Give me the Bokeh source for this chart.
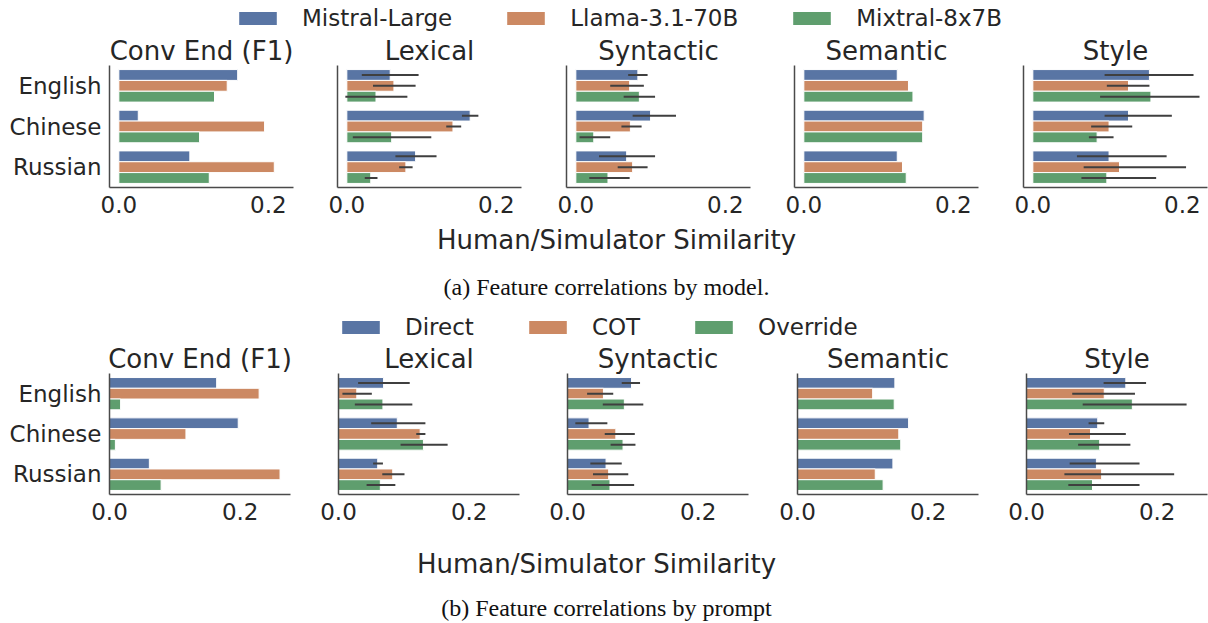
from bokeh.plotting import figure
from bokeh.models import (Range1d, FactorRange, FixedTicker, ColumnDataSource, Legend,
                          LegendItem, Label, NumeralTickFormatter)
from bokeh.transform import dodge
from bokeh.layouts import column, row
from bokeh.embed import file_html
from bokeh.resources import INLINE

NaN = float("nan")

# ---------------- data ----------------
languages = ["English", "Chinese", "Russian"]
features = ["Conv End (F1)", "Lexical", "Syntactic", "Semantic", "Style"]
models = ["Mistral-Large", "Llama-3.1-70B", "Mixtral-8x7B"]
prompts = ["Direct", "COT", "Override"]
colors = ["#5975A4", "#CC8963", "#5F9E6E"]
x_ticks = [0.0, 0.2]
x_label = "Human/Simulator Similarity"
caption_a = "(a) Feature correlations by model."
caption_b = "(b) Feature correlations by prompt"

# (a) by model -- values per language [English, Chinese, Russian]
conv_mistral = [0.159, 0.026, 0.095]
conv_llama = [0.145, 0.195, 0.208]
conv_mixtral = [0.128, 0.108, 0.121]

lex_mistral = [0.058, 0.165, 0.092]
lex_mistral_lo = [0.020, 0.154, 0.065]
lex_mistral_hi = [0.096, 0.176, 0.120]
lex_llama = [0.063, 0.142, 0.079]
lex_llama_lo = [0.035, 0.133, 0.070]
lex_llama_hi = [0.092, 0.153, 0.088]
lex_mixtral = [0.039, 0.060, 0.032]
lex_mixtral_lo = [-0.002, 0.008, 0.024]
lex_mixtral_hi = [0.081, 0.113, 0.041]

syn_mistral = [0.083, 0.100, 0.068]
syn_mistral_lo = [0.070, 0.076, 0.031]
syn_mistral_hi = [0.096, 0.134, 0.106]
syn_llama = [0.072, 0.073, 0.076]
syn_llama_lo = [0.046, 0.061, 0.056]
syn_llama_hi = [0.091, 0.088, 0.096]
syn_mixtral = [0.085, 0.024, 0.043]
syn_mixtral_lo = [0.064, 0.005, 0.018]
syn_mixtral_hi = [0.106, 0.046, 0.072]

sem_mistral = [0.125, 0.161, 0.125]
sem_llama = [0.140, 0.159, 0.132]
sem_mixtral = [0.146, 0.159, 0.137]

sty_mistral = [0.156, 0.128, 0.102]
sty_mistral_lo = [0.096, 0.096, 0.059]
sty_mistral_hi = [0.215, 0.186, 0.179]
sty_llama = [0.128, 0.102, 0.116]
sty_llama_lo = [0.099, 0.078, 0.068]
sty_llama_hi = [0.156, 0.133, 0.205]
sty_mixtral = [0.158, 0.086, 0.099]
sty_mixtral_lo = [0.090, 0.075, 0.065]
sty_mixtral_hi = [0.223, 0.108, 0.165]

# (b) by prompt
conv_direct = [0.164, 0.197, 0.061]
conv_cot = [0.229, 0.117, 0.261]
conv_override = [0.017, 0.009, 0.079]

lex_direct = [0.069, 0.090, 0.060]
lex_direct_lo = [0.030, 0.050, 0.053]
lex_direct_hi = [0.109, 0.133, 0.068]
lex_cot = [0.028, 0.125, 0.083]
lex_cot_lo = [0.006, 0.119, 0.067]
lex_cot_hi = [0.051, 0.133, 0.101]
lex_override = [0.068, 0.130, 0.064]
lex_override_lo = [0.025, 0.095, 0.043]
lex_override_hi = [0.113, 0.167, 0.087]

syn_direct = [0.098, 0.033, 0.059]
syn_direct_lo = [0.083, 0.012, 0.035]
syn_direct_hi = [0.111, 0.061, 0.083]
syn_cot = [0.055, 0.074, 0.063]
syn_cot_lo = [0.030, 0.057, 0.039]
syn_cot_hi = [0.070, 0.103, 0.093]
syn_override = [0.087, 0.085, 0.065]
syn_override_lo = [0.054, 0.066, 0.037]
syn_override_hi = [0.116, 0.104, 0.102]

sem_direct = [0.149, 0.170, 0.146]
sem_cot = [0.115, 0.155, 0.119]
sem_override = [0.148, 0.158, 0.131]

sty_direct = [0.152, 0.109, 0.107]
sty_direct_lo = [0.118, 0.095, 0.066]
sty_direct_hi = [0.183, 0.119, 0.173]
sty_cot = [0.119, 0.098, 0.115]
sty_cot_lo = [0.070, 0.065, 0.058]
sty_cot_hi = [0.166, 0.152, 0.226]
sty_override = [0.162, 0.112, 0.101]
sty_override_lo = [0.086, 0.079, 0.064]
sty_override_hi = [0.245, 0.159, 0.173]

NOERR = [NaN, NaN, NaN]

row_a = [
    ([conv_mistral, conv_llama, conv_mixtral], [NOERR] * 3, [NOERR] * 3),
    ([lex_mistral, lex_llama, lex_mixtral],
     [lex_mistral_lo, lex_llama_lo, lex_mixtral_lo],
     [lex_mistral_hi, lex_llama_hi, lex_mixtral_hi]),
    ([syn_mistral, syn_llama, syn_mixtral],
     [syn_mistral_lo, syn_llama_lo, syn_mixtral_lo],
     [syn_mistral_hi, syn_llama_hi, syn_mixtral_hi]),
    ([sem_mistral, sem_llama, sem_mixtral], [NOERR] * 3, [NOERR] * 3),
    ([sty_mistral, sty_llama, sty_mixtral],
     [sty_mistral_lo, sty_llama_lo, sty_mixtral_lo],
     [sty_mistral_hi, sty_llama_hi, sty_mixtral_hi]),
]
row_b = [
    ([conv_direct, conv_cot, conv_override], [NOERR] * 3, [NOERR] * 3),
    ([lex_direct, lex_cot, lex_override],
     [lex_direct_lo, lex_cot_lo, lex_override_lo],
     [lex_direct_hi, lex_cot_hi, lex_override_hi]),
    ([syn_direct, syn_cot, syn_override],
     [syn_direct_lo, syn_cot_lo, syn_override_lo],
     [syn_direct_hi, syn_cot_hi, syn_override_hi]),
    ([sem_direct, sem_cot, sem_override], [NOERR] * 3, [NOERR] * 3),
    ([sty_direct, sty_cot, sty_override],
     [sty_direct_lo, sty_cot_lo, sty_override_lo],
     [sty_direct_hi, sty_cot_hi, sty_override_hi]),
]

# ---------------- styling ----------------
TEXT = "#262626"
FONT = "DejaVu Sans"
SERIF = "Liberation Serif"
TOTAL_W = 1208
BAR_H = 0.8 / 3
OFFSETS = [BAR_H, 0.0, -BAR_H]


def make_panel(title, vals, los, his, xr, frame_w, frame_h, bl, br, bt, bb, first):
    p = figure(frame_width=frame_w, frame_height=frame_h,
               x_range=Range1d(*xr),
               y_range=FactorRange(factors=languages[::-1], range_padding=0),
               min_border_left=bl, min_border_right=br, min_border_top=bt, min_border_bottom=bb,
               toolbar_location=None, output_backend="svg", title=title)
    p.title.align = "center"
    p.title.text_font = FONT
    p.title.text_font_size = "26px"
    p.title.text_font_style = "normal"
    p.title.text_color = TEXT
    p.title.standoff = 0
    p.outline_line_color = None
    p.grid.visible = False
    for h in range(3):
        src = ColumnDataSource(dict(lang=languages, v=vals[h], lo=los[h], hi=his[h]))
        yy = dodge("lang", OFFSETS[h], range=p.y_range)
        p.hbar(y=yy, left=0, right="v", height=BAR_H, source=src,
               fill_color=colors[h], line_color="white", line_width=1)
        p.segment(x0="lo", y0=yy, x1="hi", y1=yy, source=src,
                  line_color="#3f3f3f", line_width=2)
    ax = p.xaxis[0]
    ax.ticker = FixedTicker(ticks=x_ticks)
    ax.formatter = NumeralTickFormatter(format="0.0")
    ax.major_label_text_font = FONT
    ax.major_label_text_font_size = "23px"
    ax.major_label_text_color = TEXT
    ax.major_label_standoff = 8
    ax.major_tick_out = 0
    ax.major_tick_in = 0
    ax.minor_tick_out = 0
    ax.minor_tick_in = 0
    ax.axis_line_color = "#4a4a4a"
    ax.axis_line_width = 1.5
    ay = p.yaxis[0]
    ay.major_tick_out = 0
    ay.major_tick_in = 0
    ay.axis_line_color = "#4a4a4a"
    ay.axis_line_width = 1.5
    ay.major_label_text_font = FONT
    ay.major_label_text_font_size = "23px"
    ay.major_label_standoff = 8
    ay.major_label_orientation = "horizontal"
    ay.major_label_text_color = TEXT if first else None
    return p


def panel_row(data, xr, frame_w, frame_h, lefts, bt, bb):
    figs = []
    for i, (vals, los, his) in enumerate(data):
        br = 1 if i == 4 else 5
        figs.append(make_panel(features[i], vals, los, his, xr, frame_w, frame_h,
                               lefts[i], br, bt, bb, i == 0))
    return row(*figs, spacing=0)


def legend_strip(labels, height, x_loc, y_loc):
    p = figure(frame_width=TOTAL_W, frame_height=height, x_range=Range1d(0, 1),
               y_range=Range1d(0, 1), min_border=0, toolbar_location=None,
               output_backend="svg", x_axis_location=None, y_axis_location=None,
               outline_line_color=None)
    p.grid.visible = False
    items = []
    for h in range(3):
        src = ColumnDataSource(dict(y=[0.5], l=[0.0], r=[0.0]))
        rr = p.hbar(y="y", left="l", right="r", height=0.0, source=src,
                    fill_color=colors[h], line_color=None)
        items.append(LegendItem(label=labels[h], renderers=[rr], index=0))
    lg = Legend(items=items, orientation="horizontal", location=(x_loc, y_loc),
                glyph_width=47, glyph_height=16, label_standoff=21, spacing=50,
                padding=0, margin=0, border_line_color=None, background_fill_alpha=0,
                label_text_font=FONT, label_text_font_size="23px", label_text_color=TEXT)
    p.add_layout(lg)
    return p


def text_strip(height, xl_x, xl_y, cap_text, cap_x, cap_y):
    p = figure(frame_width=TOTAL_W, frame_height=height, x_range=Range1d(0, TOTAL_W),
               y_range=Range1d(height, 0), min_border=0, toolbar_location=None,
               output_backend="svg", x_axis_location=None, y_axis_location=None,
               outline_line_color=None)
    p.grid.visible = False
    p.add_layout(Label(x=xl_x, y=xl_y, text=x_label, text_align="center",
                       text_baseline="middle", text_font=FONT, text_font_size="26px",
                       text_color=TEXT))
    p.add_layout(Label(x=cap_x, y=cap_y, text=cap_text, text_align="center",
                       text_baseline="middle", text_font=SERIF, text_font_size="24px",
                       text_color="#111111"))
    return p


# vertical plan (page px): legend 0-32, row1 32-225 (frame 65-187),
# text 225-307, legend 307-340, row2 340-532 (frame 373-494), text 532-623
leg_a = legend_strip(models, 32, 234, 1)
row1 = panel_row(row_a, (-0.0125, 0.2337), 184, 122, [109, 39, 40, 39, 40], 33, 38)
txt_a = text_strip(82, 616, 14, caption_a, 606, 61)
leg_b = legend_strip(prompts, 33, 337, 0)
row2 = panel_row(row_b, (0.0, 0.277), 181, 121, [109, 43, 43, 44, 43], 33, 38)
txt_b = text_strip(91, 596, 31, caption_b, 606, 75)

layout = column(leg_a, row1, txt_a, leg_b, row2, txt_b, spacing=0)

open("out.html", "w").write(file_html(layout, INLINE))
